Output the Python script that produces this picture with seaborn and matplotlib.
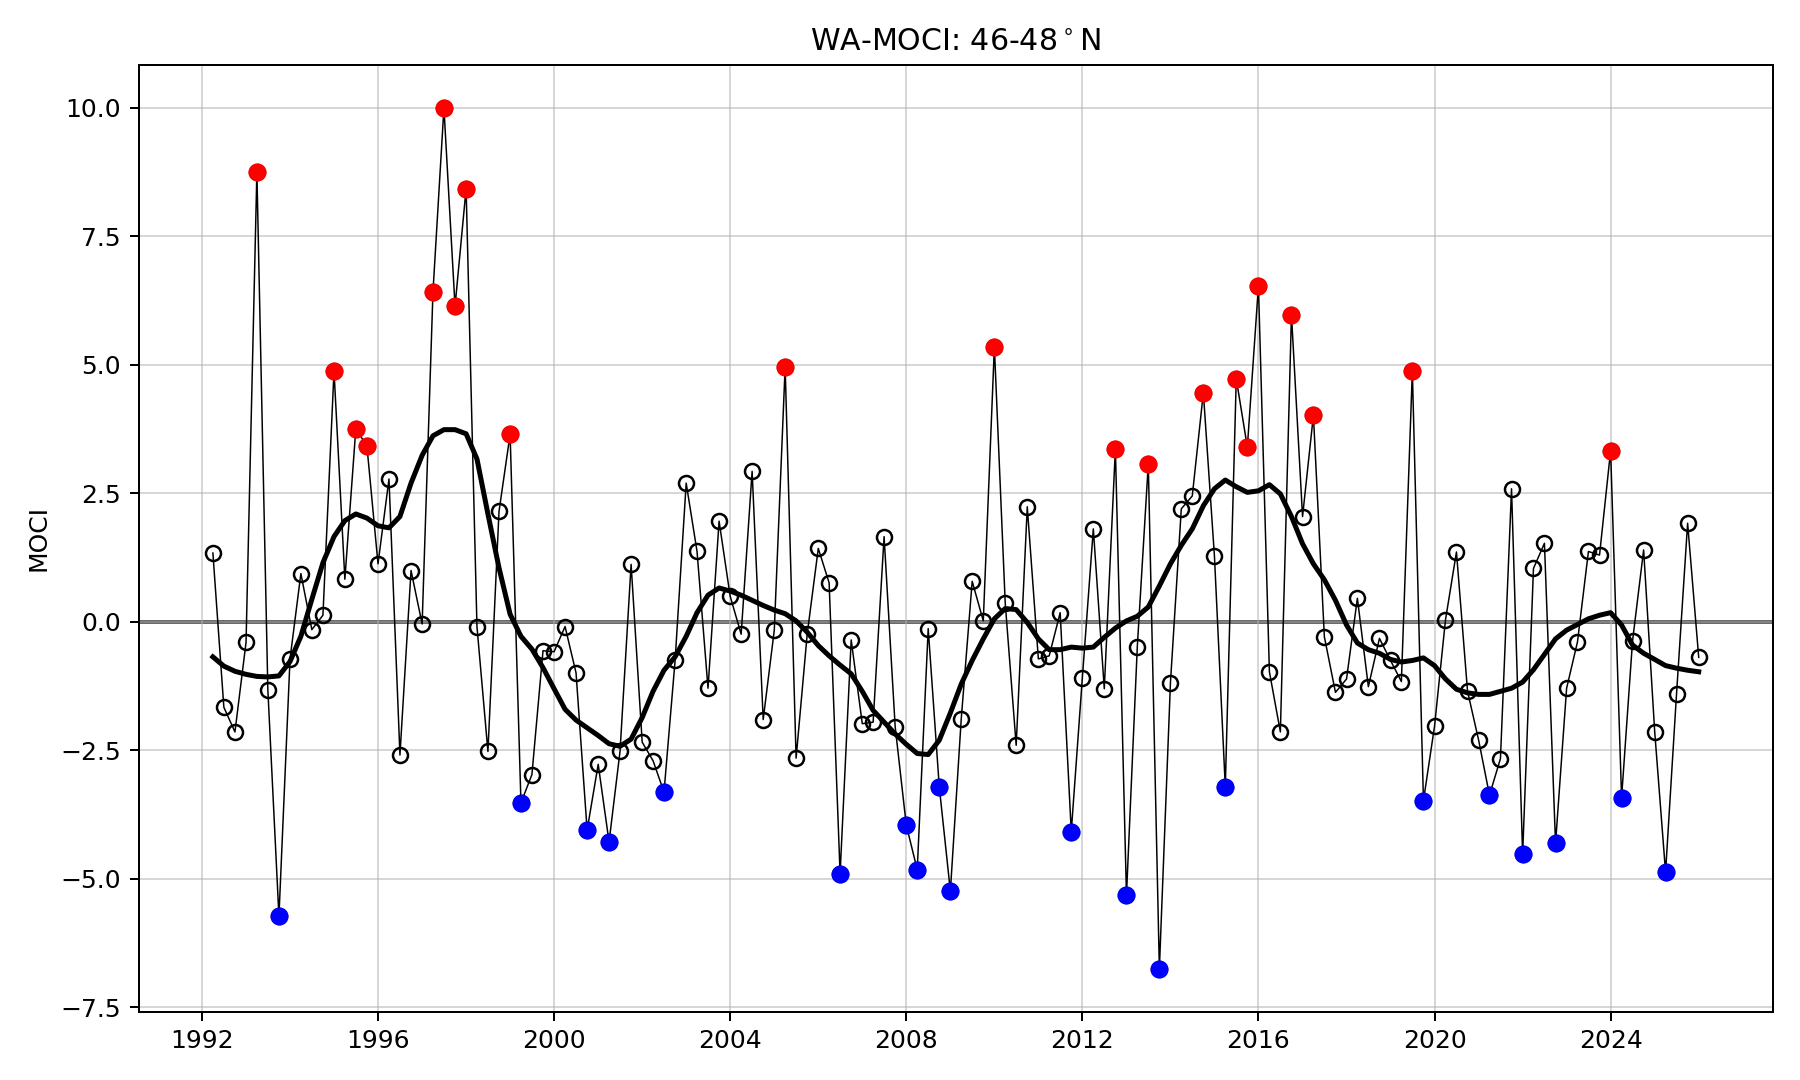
import numpy as np
import pandas as pd
import matplotlib
matplotlib.use('Agg')
import matplotlib.pyplot as plt
import matplotlib.dates as mdates
import seaborn as sns

# quarterly MOCI values, 1992 Q2 .. 2026 Q1
moci = [
    1.34, -1.66, -2.14,
    -0.40, 8.75, -1.32, -5.73,      # 1993
    -0.72, 0.94, -0.15, 0.13,       # 1994
    4.88, 0.83, 3.76, 3.42,         # 1995
    1.13, 2.78, -2.59, 1.00,        # 1996
    -0.04, 6.42, 10.0, 6.14,        # 1997
    8.43, -0.09, -2.52, 2.15,       # 1998
    3.65, -3.52, -2.97, -0.56,      # 1999
    -0.58, -0.09, -0.99, -4.05,     # 2000
    -2.77, -4.28, -2.52, 1.12,      # 2001
    -2.34, -2.70, -3.31, -0.75,     # 2002
    2.70, 1.37, -1.29, 1.96,        # 2003
    0.50, -0.24, 2.93, -1.90,       # 2004
    -0.16, 4.96, -2.65, -0.24,      # 2005
    1.43, 0.76, -4.90, -0.35,       # 2006
    -1.98, -1.95, 1.66, -2.04,      # 2007
    -3.95, -4.82, -0.13, -3.21,     # 2008
    -5.24, -1.89, 0.79, 0.02,       # 2009
    5.35, 0.37, -2.40, 2.24,        # 2010
    -0.72, -0.66, 0.18, -4.08,      # 2011
    -1.09, 1.81, -1.30, 3.37,       # 2012
    -5.32, -0.48, 3.07, -6.75,      # 2013
    -1.18, 2.20, 2.45, 4.46,        # 2014
    1.28, -3.21, 4.73, 3.40,        # 2015
    6.54, -0.97, -2.14, 5.98,       # 2016
    2.05, 4.02, -0.29, -1.37,       # 2017
    -1.11, 0.46, -1.26, -0.32,      # 2018
    -0.75, -1.16, 4.88, -3.48,      # 2019
    -2.03, 0.04, 1.36, -1.35,       # 2020
    -2.30, -3.37, -2.66, 2.59,      # 2021
    -4.52, 1.04, 1.53, -4.31,       # 2022
    -1.29, -0.39, 1.37, 1.30,       # 2023
    3.33, -3.42, -0.37, 1.40,       # 2024
    -2.14, -4.87, -1.40, 1.92,      # 2025
    -0.69,                          # 2026
]

# smoothed curve, same quarters
smooth = [
    -0.68, -0.86, -0.96,
    -1.02, -1.06, -1.07, -1.05,
    -0.77, -0.28, 0.44, 1.15,
    1.66, 1.97, 2.10, 2.02,
    1.87, 1.83, 2.05, 2.70,
    3.24, 3.62, 3.74, 3.74,
    3.66, 3.17, 2.10, 1.05,
    0.15, -0.28, -0.53, -0.89,
    -1.30, -1.70, -1.91, -2.06,
    -2.21, -2.37, -2.42, -2.28,
    -1.86, -1.35, -0.94, -0.68,
    -0.28, 0.18, 0.52, 0.66,
    0.60, 0.52, 0.42, 0.32,
    0.23, 0.16, 0.02, -0.20,
    -0.46, -0.66, -0.84, -1.01,
    -1.35, -1.72, -1.95, -2.18,
    -2.38, -2.56, -2.58, -2.30,
    -1.77, -1.21, -0.75, -0.33,
    0.06, 0.26, 0.24, -0.01,
    -0.33, -0.54, -0.54, -0.49,
    -0.51, -0.49, -0.30, -0.12,
    0.02, 0.11, 0.29, 0.70,
    1.13, 1.49, 1.81, 2.26,
    2.59, 2.76, 2.63, 2.52,
    2.55, 2.67, 2.49, 2.05,
    1.52, 1.13, 0.82, 0.42,
    -0.06, -0.41, -0.54, -0.61,
    -0.73, -0.78, -0.75, -0.70,
    -0.85, -1.11, -1.31, -1.38,
    -1.41, -1.41, -1.35, -1.29,
    -1.17, -0.93, -0.63, -0.33,
    -0.16, -0.05, 0.06, 0.13,
    0.18, -0.06, -0.45, -0.61,
    -0.73, -0.85, -0.90, -0.94,
    -0.97,
]

dates = pd.date_range("1992-04-01", "2026-01-01", freq="QS")
assert len(dates) == len(moci) == len(smooth)

df = pd.DataFrame({"date": dates, "moci": moci, "smooth": smooth})
hi = df[df["moci"] > 3]
lo = df[df["moci"] < -3]

fig, ax = plt.subplots(figsize=(10, 6), dpi=180)
fig.subplots_adjust(left=0.077, right=0.985, top=0.94, bottom=0.063)

ax.grid(True, alpha=0.5, zorder=0)
ax.axhline(0, color="#555555", lw=1.5, zorder=1)

# raw quarterly series: thin line with open circles
sns.lineplot(data=df, x="date", y="moci", ax=ax, color="k", lw=0.6,
             marker="o", markersize=6, markerfacecolor="none",
             markeredgecolor="k", markeredgewidth=1.0, zorder=2)

# extremes
sns.scatterplot(data=hi, x="date", y="moci", ax=ax, color="red",
                edgecolor="red", s=45, zorder=3)
sns.scatterplot(data=lo, x="date", y="moci", ax=ax, color="blue",
                edgecolor="blue", s=45, zorder=3)

# smoothed curve
sns.lineplot(data=df, x="date", y="smooth", ax=ax, color="k", lw=2, zorder=4)

ax.xaxis.set_major_locator(mdates.YearLocator(4))
ax.xaxis.set_major_formatter(mdates.DateFormatter("%Y"))
ax.set_xlabel("")
ax.set_ylabel("MOCI")
ax.set_title("WA-MOCI: 46-48$^\\circ$N")

plt.savefig("out.png", dpi=180)
plt.close(fig)
